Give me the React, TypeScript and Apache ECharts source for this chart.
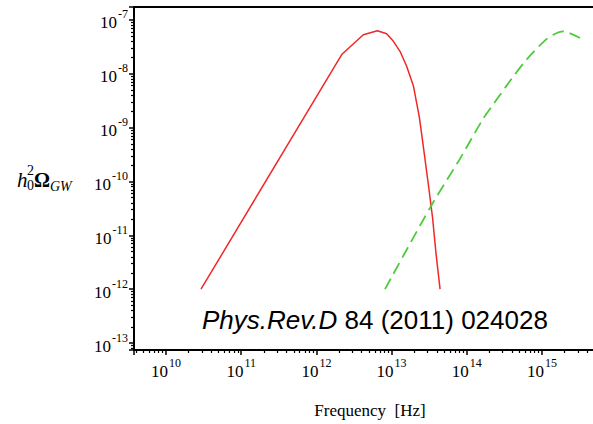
import React, { useEffect, useRef } from "react";
import * as echarts from "echarts";

// Axis ranges (log10 exponents)
const xRangeExp = [9.5745, 15.851];
const yRangeExp = [-13.129, -6.761];

// Tick label exponents shown on the axes
const xTickExponents = [10, 11, 12, 13, 14, 15];
const yTickExponents = [-13, -12, -11, -10, -9, -8, -7];

// Red solid curve
const redFreq = [
  2.92e10, 2.17e12, 4.21e12, 6.47e12, 8.61e12, 1.057e13, 1.294e13, 1.585e13,
  1.95e13, 2.34e13, 2.63e13, 3.09e13, 3.51e13, 3.89e13, 4.41e13,
];
const redOmega = [
  1.0e-12, 2.27e-8, 5.3e-8, 6.28e-8, 5.52e-8, 3.99e-8, 2.61e-8, 1.38e-8,
  5.93e-9, 1.55e-9, 4.68e-10, 8.51e-11, 2.09e-11, 4.68e-12, 1.0e-12,
];

// Green dashed curve
const greenFreq = [
  8.17e12, 3.41e13, 8.13e13, 1.66e14, 2.26e14, 3.75e14, 6.25e14, 1.1e15,
  1.41e15, 1.92e15, 3.2e15,
];
const greenOmega = [
  1.0e-12, 3.66e-11, 2.65e-10, 1.48e-9, 2.72e-9, 7.33e-9, 1.84e-8, 4.17e-8,
  5.3e-8, 6.1e-8, 4.6e-8,
];

const SERIF = '"Liberation Serif", "Times New Roman", serif';
const SANS = '"Liberation Sans", Arial, sans-serif';

function tickFormatter(allowed: number[]) {
  return (v: number) => {
    const e = Math.log10(v);
    const r = Math.round(e);
    if (Math.abs(e - r) > 1e-6 || allowed.indexOf(r) < 0) return "";
    return "{b|10}{s|" + r + "}";
  };
}

const richTicks = {
  b: {
    fontFamily: SERIF,
    fontSize: 17,
    lineHeight: 23,
    verticalAlign: "bottom",
    color: "#000",
  },
  s: {
    fontFamily: SERIF,
    fontSize: 12,
    verticalAlign: "top",
    color: "#000",
    padding: [0, 0, 0, 1],
  },
};

export default function App() {
  const ref = useRef<HTMLDivElement>(null);

  useEffect(() => {
    if (!ref.current) return;
    const chart = echarts.init(ref.current, null, { renderer: "svg" });

    const axisCommon = {
      type: "log" as const,
      logBase: 10,
      axisLine: { show: true, lineStyle: { color: "#000", width: 2 } },
      axisTick: {
        show: true,
        inside: false,
        length: 5,
        lineStyle: { color: "#000", width: 1.5 },
      },
      minorTick: {
        show: true,
        splitNumber: 9,
        length: 3,
        lineStyle: { color: "#000", width: 1.2 },
      },
      splitLine: { show: false },
      minorSplitLine: { show: false },
    };

    chart.setOption({
      animation: false,
      backgroundColor: "#fff",
      grid: {
        left: 134,
        top: 7,
        right: 34,
        bottom: 71,
        show: true,
        borderColor: "#000",
        borderWidth: 2,
        backgroundColor: "transparent",
      },
      xAxis: {
        ...axisCommon,
        min: Math.pow(10, xRangeExp[0]),
        max: Math.pow(10, xRangeExp[1]),
        name: "Frequency \u00a0[Hz]",
        nameLocation: "middle",
        nameGap: 52,
        nameTextStyle: { fontFamily: SERIF, fontSize: 17, color: "#000" },
        axisLabel: {
          margin: 7,
          formatter: tickFormatter(xTickExponents),
          rich: richTicks,
          showMinLabel: false,
          showMaxLabel: false,
        },
      },
      yAxis: {
        ...axisCommon,
        min: Math.pow(10, yRangeExp[0]),
        max: Math.pow(10, yRangeExp[1]),
        axisLabel: {
          margin: 6,
          formatter: tickFormatter(yTickExponents),
          rich: richTicks,
          showMinLabel: false,
          showMaxLabel: false,
        },
      },
      graphic: [
        {
          type: "text",
          x: 17,
          y: 180,
          style: { text: "h", font: "italic 21px " + SERIF, fill: "#000", textVerticalAlign: "middle" },
        },
        {
          type: "text",
          x: 27,
          y: 170,
          style: { text: "2", font: "14px " + SERIF, fill: "#000", textVerticalAlign: "middle" },
        },
        {
          type: "text",
          x: 27,
          y: 185,
          style: { text: "0", font: "14px " + SERIF, fill: "#000", textVerticalAlign: "middle" },
        },
        {
          type: "text",
          x: 34,
          y: 180,
          style: { text: "\u03a9", font: "bold 20px " + SERIF, fill: "#000", textVerticalAlign: "middle" },
        },
        {
          type: "text",
          x: 50,
          y: 186,
          style: { text: "GW", font: "italic 14px " + SERIF, fill: "#000", textVerticalAlign: "middle" },
        },
        {
          type: "text",
          x: 202,
          y: 320,
          z: 100,
          style: {
            text: "{i|Phys.Rev.D} 84 (2011) 024028",
            font: "26px " + SANS,
            fill: "#000",
            textVerticalAlign: "middle",
            rich: {
              i: { fontStyle: "italic", fontSize: 26, fontFamily: SANS, color: "#000" },
            },
          },
        },
      ],
      series: [
        {
          type: "line",
          symbol: "none",
          data: redFreq.map((f, i) => [f, redOmega[i]]),
          lineStyle: { color: "#f02828", width: 1.5 },
        },
        {
          type: "line",
          symbol: "none",
          smooth: 0.3,
          data: greenFreq.map((f, i) => [f, greenOmega[i]]),
          lineStyle: { color: "#4ccb3c", width: 1.8, type: [12, 6] },
        },
      ],
    });

    return () => chart.dispose();
  }, []);

  return (
    <div
      style={{
        position: "fixed",
        left: 0,
        top: 0,
        width: 593,
        height: 424,
        overflow: "hidden",
        background: "#fff",
      }}
    >
      <div ref={ref} style={{ width: 640, height: 424 }} />
    </div>
  );
}
